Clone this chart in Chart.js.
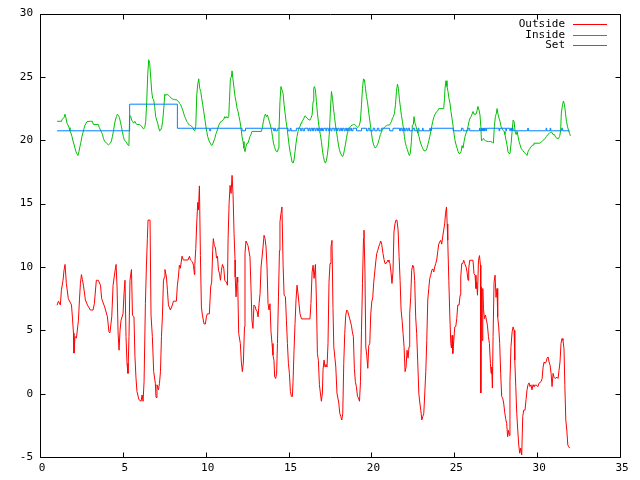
<!DOCTYPE html>
<html>
<head>
<meta charset="utf-8">
<script src="https://cdn.jsdelivr.net/npm/chart.js@4.4.1/dist/chart.umd.min.js"></script>
<style>
  html, body { margin: 0; padding: 0; background: #fff; }
  #wrap { width: 640px; height: 480px; }
</style>
</head>
<body>
<div id="wrap"><canvas id="chart" width="640" height="480"></canvas></div>
<script>
// Temperatura exterior
const outsideX = [
  1.03,1.11,1.23,1.29,1.39,1.45,1.51,1.59,1.71,1.90,
  1.96,2.02,2.05,2.11,2.20,2.32,2.38,2.44,2.50,2.56,
  2.62,2.74,2.86,3.04,3.20,3.28,3.40,3.52,3.65,3.72,
  3.90,4.07,4.16,4.22,4.33,4.41,4.51,4.59,4.65,4.71,
  4.77,4.83,4.89,5.01,5.07,5.13,5.19,5.25,5.31,5.37,
  5.43,5.52,5.58,5.67,5.73,5.79,5.85,5.97,6.10,6.16,
  6.22,6.28,6.36,6.42,6.48,6.52,6.64,6.70,6.78,6.86,
  6.96,7.00,7.06,7.15,7.21,7.27,7.33,7.39,7.45,7.51,
  7.54,7.63,7.69,7.75,7.87,7.99,8.05,8.23,8.29,8.35,
  8.41,8.47,8.57,8.65,8.93,9.02,9.08,9.20,9.26,9.32,
  9.34,9.40,9.46,9.52,9.56,9.62,9.68,9.74,9.80,9.90,
  9.98,10.04,10.10,10.22,10.30,10.36,10.42,10.46,10.52,10.59,
  10.65,10.71,10.77,10.83,10.89,10.95,11.01,11.09,11.15,11.25,
  11.31,11.35,11.41,11.47,11.53,11.59,11.65,11.71,11.77,11.78,
  11.83,11.89,11.93,11.99,12.09,12.15,12.21,12.27,12.34,12.37,
  12.43,12.55,12.67,12.73,12.79,12.85,12.91,12.98,13.04,13.10,
  13.16,13.22,13.28,13.34,13.46,13.52,13.58,13.64,13.70,13.76,
  13.82,13.88,13.94,14.00,14.06,14.12,14.16,14.22,14.28,14.33,
  14.39,14.45,14.48,14.54,14.60,14.67,14.73,14.81,14.87,14.93,
  14.99,15.05,15.11,15.17,15.23,15.27,15.33,15.39,15.45,15.51,
  15.57,15.63,15.69,15.78,16.29,16.35,16.42,16.48,16.54,16.62,
  16.68,16.74,16.80,16.86,16.92,16.98,17.04,17.08,17.14,17.20,
  17.26,17.32,17.38,17.44,17.50,17.56,17.62,17.68,17.73,17.85,
  17.92,18.03,18.09,18.15,18.21,18.27,18.33,18.39,18.45,18.51,
  18.57,18.63,18.69,18.79,18.85,18.91,18.97,19.03,19.09,19.16,
  19.22,19.28,19.34,19.40,19.46,19.52,19.55,19.61,19.66,19.72,
  19.78,19.84,19.90,19.96,20.02,20.08,20.14,20.20,20.26,20.32,
  20.38,20.44,20.50,20.56,20.62,20.70,20.76,20.82,20.88,20.94,
  21.00,21.06,21.12,21.18,21.24,21.30,21.36,21.42,21.48,21.54,
  21.61,21.67,21.73,21.79,21.85,21.91,21.97,22.03,22.09,22.15,
  22.21,22.27,22.31,22.37,22.43,22.49,22.55,22.61,22.67,22.73,
  22.79,22.86,22.92,22.98,23.04,23.10,23.16,23.22,23.28,23.34,
  23.40,23.46,23.52,23.58,23.64,23.70,23.76,23.82,23.88,23.94,
  24.00,24.06,24.12,24.18,24.24,24.30,24.36,24.42,24.47,24.53,
  24.57,24.59,24.62,24.67,24.73,24.79,24.83,24.87,24.91,24.97,
  25.03,25.09,25.15,25.21,25.29,25.35,25.39,25.45,25.51,25.57,
  25.63,25.71,25.77,25.83,25.87,25.93,26.13,26.19,26.25,26.31,
  26.35,26.40,26.46,26.52,26.58,26.60,26.64,26.68,26.72,26.76,
  26.82,26.88,26.94,27.00,27.06,27.12,27.18,27.22,27.26,27.30,
  27.34,27.40,27.46,27.52,27.58,27.62,27.68,27.74,27.80,27.86,
  27.92,27.98,28.04,28.10,28.16,28.22,28.27,28.33,28.36,28.42,
  28.49,28.55,28.61,28.65,28.71,28.77,28.83,28.89,28.95,29.01,
  29.07,29.13,29.19,29.27,29.33,29.39,29.45,29.51,29.57,29.63,
  29.69,29.75,29.81,29.93,30.05,30.11,30.24,30.30,30.36,30.42,
  30.48,30.54,30.60,30.66,30.72,30.78,30.84,30.90,30.96,31.02,
  31.08,31.20,31.26,31.32,31.38,31.44,31.50,31.56,31.62,31.67,
  31.73,31.79,31.85,31.91,31.97
];
const outsideY = [
  6.98,7.3,7.0,8.16,8.95,9.74,10.2,8.7,7.5,7.0,
  5.96,4.77,3.2,4.5,4.4,5.8,7.4,8.7,9.4,9.0,
  8.56,7.4,7.0,6.6,6.6,7.1,8.95,8.95,8.56,7.5,
  6.85,6.06,4.88,4.8,6.06,8.56,9.53,10.2,8.43,4.88,
  3.43,5.0,5.8,6.3,7.9,8.95,4.5,2.4,1.6,4.5,
  8.95,9.8,6.2,6.06,2.9,1.3,0.18,-0.47,-0.6,-0.1,
  -0.6,0.95,7.1,10.0,12.24,13.7,13.7,6.2,4.5,1.74,
  0.82,-0.3,0.7,0.3,0.82,1.74,4.5,6.2,8.95,9.2,
  9.8,9.2,8.16,7.0,6.6,7.0,7.3,7.3,8.56,9.2,
  10.14,9.9,10.85,10.55,10.55,10.85,10.55,10.4,10.14,9.4,
  10.1,11.45,13.55,15.1,14.5,16.4,10.9,6.85,6.2,5.5,
  5.5,6.06,6.3,6.3,8.43,8.8,11.3,12.24,11.7,11.5,
  10.7,10.85,9.74,9.5,8.95,9.74,10.2,9.9,8.95,8.8,
  8.56,12.24,15.0,16.44,15.8,17.23,15.7,12.63,10.55,9.2,
  7.64,9.2,8.8,4.75,3.96,2.5,1.74,2.4,5.27,11.05,
  12.05,11.7,10.8,8.43,5.8,5.15,7.0,6.9,6.6,6.5,
  6.06,7.1,7.9,10.0,11.58,12.5,12.24,11.58,10.0,7.1,
  6.6,7.1,4.88,3.96,3.04,2.6,1.34,1.2,1.6,3.96,
  7.64,11.3,13.55,14.2,14.74,10.14,7.78,7.64,5.8,3.96,
  2.4,1.6,0.18,-0.22,-0.22,0.95,3.43,5.54,7.4,8.56,
  7.9,7.1,6.3,5.9,5.9,7.1,9.6,10.14,9.1,10.2,
  7.4,3.17,2.6,0.7,0.05,-0.6,0.05,1.9,2.65,2.1,
  2.3,2.1,3.96,8.8,10.27,11.58,12.1,6.72,3.7,2.1,
  0.05,-0.74,-1.55,-1.8,-2.08,-1.55,2.4,4.75,6.2,6.6,
  6.5,6.2,5.9,5.4,4.88,4.5,2.0,0.95,0.56,-0.22,
  -0.35,-0.6,0.95,5.0,8.7,12.24,12.9,9.6,3.7,3.0,
  2.0,3.8,3.96,6.3,7.24,7.6,8.8,9.6,10.4,11.05,
  11.3,11.58,11.8,12.05,11.8,11.05,10.6,10.27,10.27,10.4,
  10.55,10.4,10.27,9.6,8.7,9.6,12.76,13.4,13.7,13.7,
  12.9,10.8,8.95,6.6,5.8,4.75,3.7,1.74,2.1,3.43,
  2.8,3.7,6.33,7.6,9.74,10.14,10.0,8.95,6.06,4.75,
  2.65,0.05,-0.74,-1.3,-2.08,-1.8,-1.55,0.05,1.74,4.2,
  7.4,8.3,9.1,9.35,9.74,9.85,9.6,10.0,10.27,10.55,
  11.2,11.8,11.97,12.1,11.8,12.37,12.9,13.4,14.2,14.74,
  13.4,13.0,12.1,8.95,6.2,3.96,3.6,4.6,3.17,4.2,
  5.27,5.3,5.93,7.0,7.0,7.77,9.2,10.27,10.27,10.53,
  10.27,10.0,9.6,8.95,9.85,10.53,10.53,9.48,9.35,8.3,
  8.8,7.77,10.53,10.9,10.14,0.05,8.43,4.2,8.3,6.72,
  5.93,6.2,5.8,5.4,4.5,3.96,2.4,1.6,2.1,0.44,
  4.5,8.8,9.35,7.6,8.3,6.06,5.27,3.96,1.6,-0.22,
  -0.35,-0.74,-1.44,-1.96,-2.35,-3.4,-2.9,-3.3,0.95,3.7,
  4.88,5.27,5.0,2.65,0.56,-1.55,-2.87,-4.05,-4.7,-4.3,
  -4.84,-1.8,-1.3,-1.3,-0.47,0.3,0.7,0.85,0.56,0.7,
  0.3,0.7,0.56,0.7,0.56,0.82,0.95,1.2,2.1,2.5,
  2.4,2.5,2.8,2.9,2.5,2.25,1.6,0.56,1.6,1.3,
  1.2,1.3,1.2,1.84,2.5,3.96,4.35,4.2,3.56,0.7,
  -2.08,-2.87,-4.05,-4.2,-4.3
];

// Temperatura interior
const insideX = [
  1.03,1.29,1.31,1.45,1.51,1.57,1.63,1.69,1.75,1.81,
  1.87,1.93,1.99,2.05,2.11,2.17,2.23,2.29,2.35,2.41,
  2.47,2.53,2.60,2.66,2.72,2.78,2.84,3.04,3.16,3.22,
  3.52,3.58,3.65,3.71,3.77,3.83,3.89,3.95,4.01,4.13,
  4.25,4.31,4.37,4.43,4.49,4.55,4.61,4.67,4.73,4.79,
  4.85,4.91,4.97,5.03,5.09,5.21,5.27,5.34,5.37,5.41,
  5.47,5.53,5.59,5.65,5.72,5.78,5.84,6.02,6.08,6.14,
  6.20,6.26,6.32,6.38,6.44,6.50,6.56,6.62,6.68,6.74,
  6.80,6.86,6.92,6.98,7.04,7.10,7.16,7.22,7.28,7.34,
  7.40,7.47,7.53,7.59,7.65,7.71,7.77,7.83,7.95,8.01,
  8.13,8.25,8.31,8.37,8.43,8.49,8.55,8.61,8.67,8.73,
  8.79,8.85,8.91,8.97,9.04,9.10,9.16,9.22,9.28,9.34,
  9.40,9.46,9.52,9.58,9.64,9.70,9.76,9.82,9.88,9.94,
  10.00,10.06,10.12,10.18,10.24,10.30,10.36,10.42,10.49,10.55,
  10.60,10.66,10.72,10.78,10.85,10.91,10.97,11.03,11.09,11.15,
  11.21,11.27,11.33,11.39,11.43,11.49,11.55,11.59,11.65,11.71,
  11.77,11.83,11.89,11.95,12.01,12.07,12.13,12.19,12.25,12.31,
  12.37,12.43,12.49,12.55,12.61,12.67,12.73,12.79,13.36,13.42,
  13.48,13.54,13.60,13.66,13.72,13.78,13.84,13.90,13.97,14.03,
  14.09,14.15,14.21,14.27,14.33,14.39,14.42,14.48,14.54,14.60,
  14.67,14.73,14.79,14.85,14.91,14.97,15.03,15.09,15.15,15.21,
  15.27,15.33,15.39,15.45,15.51,15.57,15.63,15.69,15.75,15.81,
  15.87,15.93,15.99,16.05,16.11,16.17,16.23,16.29,16.35,16.42,
  16.48,16.52,16.56,16.62,16.68,16.74,16.80,16.86,16.92,16.98,
  17.04,17.10,17.16,17.22,17.28,17.34,17.41,17.47,17.53,17.59,
  17.65,17.71,17.77,17.83,17.89,17.95,18.01,18.07,18.13,18.19,
  18.25,18.31,18.37,18.43,18.49,18.55,18.61,18.67,18.73,18.85,
  18.91,18.97,19.03,19.10,19.16,19.22,19.28,19.34,19.40,19.46,
  19.52,19.58,19.64,19.70,19.76,19.82,19.88,19.94,20.00,20.06,
  20.12,20.18,20.24,20.30,20.36,20.42,20.48,20.54,20.60,20.66,
  20.72,20.78,20.84,20.90,20.97,21.09,21.15,21.21,21.27,21.33,
  21.39,21.45,21.51,21.57,21.63,21.69,21.75,21.81,21.87,21.93,
  21.99,22.05,22.11,22.17,22.23,22.29,22.35,22.41,22.47,22.53,
  22.57,22.63,22.69,22.75,22.81,22.87,22.93,22.99,23.05,23.11,
  23.17,23.28,23.34,23.40,23.46,23.52,23.58,23.64,23.70,23.76,
  23.82,23.88,23.94,24.00,24.06,24.36,24.41,24.44,24.50,24.56,
  24.62,24.68,24.74,24.80,24.86,24.93,24.99,25.05,25.11,25.17,
  25.23,25.29,25.35,25.41,25.47,25.53,25.59,25.65,25.71,25.77,
  25.83,25.89,25.95,26.01,26.07,26.13,26.19,26.31,26.37,26.43,
  26.49,26.55,26.60,26.64,26.70,26.76,26.82,26.88,27.06,27.18,
  27.30,27.36,27.42,27.48,27.54,27.58,27.64,27.70,27.76,27.82,
  27.88,27.94,28.00,28.06,28.12,28.18,28.24,28.30,28.36,28.43,
  28.49,28.55,28.61,28.67,28.73,28.79,28.85,28.91,28.97,29.03,
  29.09,29.15,29.21,29.27,29.33,29.39,29.45,29.51,29.57,29.63,
  29.75,29.81,30.16,30.24,30.32,30.40,30.48,30.56,30.64,30.72,
  30.80,30.88,30.96,31.04,31.12,31.20,31.29,31.36,31.42,31.46,
  31.53,31.59,31.65,31.71,31.77,31.83,31.89,31.95,32.01
];
const insideY = [
  21.5,21.5,21.6,21.8,22.06,21.75,21.35,21.2,21.0,20.75,
  20.56,20.3,19.95,19.7,19.38,19.1,18.93,18.8,19.1,19.5,
  19.85,20.3,20.64,20.95,21.2,21.35,21.48,21.5,21.5,21.25,
  21.25,21.0,20.8,20.64,20.45,20.15,19.95,19.85,19.77,19.64,
  19.77,19.95,20.3,20.7,21.2,21.6,21.87,22.06,21.96,21.8,
  21.48,21.1,20.7,20.3,20.03,19.85,19.7,19.58,19.85,21.95,
  21.9,21.6,21.48,21.35,21.5,21.35,21.25,21.25,21.15,21.1,
  20.95,20.9,21.0,21.48,23.05,25.16,26.35,26.08,25.0,23.85,
  23.3,23.2,22.67,21.87,21.6,21.35,21.0,20.74,20.8,21.0,
  21.48,22.53,23.64,23.53,23.64,23.58,23.53,23.45,23.3,23.25,
  23.2,23.2,23.1,23.05,22.9,22.8,22.6,22.4,22.14,21.87,
  21.7,21.5,21.4,21.25,21.2,21.15,21.1,21.0,20.8,20.74,
  21.1,23.58,24.43,24.85,24.1,23.85,23.3,22.8,22.27,21.75,
  21.2,20.7,20.3,20.03,19.85,19.7,19.58,19.7,19.95,20.15,
  20.45,20.64,20.9,21.15,21.35,21.48,21.5,21.6,21.66,21.87,
  21.75,21.87,21.75,21.87,23.05,24.9,25.0,25.48,24.76,24.1,
  23.45,23.05,22.53,22.27,21.87,21.48,20.95,20.3,19.9,19.38,
  19.1,19.5,19.77,19.77,20.03,20.3,20.45,20.7,20.7,21.0,
  21.48,21.87,22.06,21.87,22.0,21.75,21.48,21.2,20.8,20.3,
  19.77,19.5,19.25,19.1,19.1,19.38,20.7,23.05,24.24,23.98,
  23.7,22.8,22.14,21.48,20.95,20.3,19.64,19.1,18.72,18.27,
  18.2,18.45,19.1,19.77,20.3,20.7,20.95,21.1,21.35,21.48,
  21.6,21.75,21.93,21.87,21.75,21.68,21.6,21.6,21.75,22.0,
  23.05,24.1,24.24,23.98,23.05,22.14,21.48,20.8,20.45,19.9,
  19.25,18.72,18.38,18.2,18.38,18.85,19.64,20.8,22.53,23.85,
  23.3,22.53,21.87,21.2,20.7,20.15,19.64,19.25,19.0,18.85,
  18.72,18.85,19.25,19.64,20.15,20.56,20.8,20.95,21.1,21.2,
  21.25,21.25,21.2,21.1,21.0,21.1,21.2,21.6,22.8,24.1,
  24.85,24.76,24.1,23.45,23.05,22.4,21.75,21.2,20.56,20.03,
  19.7,19.5,19.38,19.5,19.64,19.85,20.15,20.45,20.64,20.8,
  20.95,21.0,21.1,21.15,21.2,21.2,21.35,21.48,21.75,21.87,
  22.14,22.8,23.85,24.43,24.1,23.2,22.6,21.95,21.5,20.95,
  20.3,19.77,19.5,19.25,19.0,18.8,19.0,19.9,21.2,21.25,
  21.87,21.35,21.1,20.8,20.56,20.3,19.95,19.7,19.5,19.32,
  19.17,19.17,19.32,19.64,19.95,20.3,20.7,21.1,21.48,21.8,
  22.0,22.14,22.27,22.32,22.5,22.5,23.3,24.1,24.7,24.24,
  23.85,23.3,22.93,22.27,21.75,21.1,20.45,19.95,19.64,19.38,
  19.1,18.95,18.95,19.1,19.58,19.38,19.9,20.3,20.56,20.8,
  21.1,21.48,21.75,21.87,22.06,22.27,22.06,22.06,22.32,22.67,
  22.4,22.0,21.1,19.95,20.03,20.15,20.03,19.95,19.9,19.9,
  19.85,19.77,21.1,21.87,22.14,22.5,22.06,21.75,21.48,21.1,
  20.95,20.8,20.7,20.45,20.03,19.64,19.1,18.95,18.95,19.77,
  20.7,21.6,21.48,20.7,20.45,20.7,20.3,19.9,19.64,19.38,
  19.25,19.17,19.06,18.98,18.9,18.8,19.1,19.25,19.38,19.5,
  19.64,19.77,19.77,19.85,19.95,20.03,20.15,20.3,20.45,20.53,
  20.64,20.64,20.45,20.45,20.24,20.15,20.15,20.3,20.8,22.14,
  22.8,23.1,22.8,22.14,21.48,21.1,20.8,20.56,20.35
];

// Consigna (escalonada): cada valor se mantiene hasta el siguiente x
const setX = [
  1.03,5.41,8.29,10.24,10.30,12.19,12.40,14.10,14.16,14.22,
  14.35,14.97,15.10,15.15,15.47,15.73,15.80,15.88,15.97,16.17,
  16.23,16.30,16.36,16.45,16.50,16.60,16.66,16.75,16.80,16.92,
  16.98,17.05,17.12,17.25,17.30,17.40,17.47,17.55,17.62,17.75,
  17.80,17.90,17.96,18.05,18.12,18.20,18.26,18.35,18.42,18.50,
  18.56,18.65,18.72,18.80,18.89,19.10,19.40,19.70,19.80,19.90,
  20.10,20.20,20.35,20.45,20.60,21.10,21.30,21.70,21.76,21.84,
  21.90,22.00,22.08,22.15,22.22,22.30,22.51,22.61,22.81,22.87,
  23.08,23.12,23.52,23.56,23.62,24.93,25.43,25.53,25.83,25.93,
  26.52,26.56,26.64,26.70,26.73,26.76,26.79,26.82,26.85,26.91,
  26.95,27.70,27.74,28.11,28.15,28.35,28.40,28.46,28.50,28.55,
  29.43,29.47,30.54,30.58,30.78,30.82,31.48,31.54,31.97
];
const setY = [
  20.75,22.85,20.95,20.75,20.95,20.75,20.95,20.75,20.95,20.75,
  20.95,20.75,20.95,20.75,20.95,20.75,20.95,20.75,20.95,20.75,
  20.95,20.75,20.95,20.75,20.95,20.75,20.95,20.75,20.95,20.75,
  20.95,20.75,20.95,20.75,20.95,20.75,20.95,20.75,20.95,20.75,
  20.95,20.75,20.95,20.75,20.95,20.75,20.95,20.75,20.95,20.75,
  20.95,20.75,20.95,20.75,20.95,20.75,20.95,20.75,20.95,20.75,
  20.95,20.75,20.95,20.75,20.95,20.75,20.95,20.75,20.95,20.75,
  20.95,20.75,20.95,20.75,20.95,20.75,20.95,20.75,20.95,20.75,
  20.95,20.75,20.95,20.75,20.95,20.75,20.95,20.75,20.95,20.75,
  20.95,20.75,20.95,20.75,20.95,20.75,20.95,20.75,20.95,20.75,
  20.95,20.75,20.95,20.75,20.95,20.75,20.95,20.75,20.95,20.75,
  20.95,20.75,20.95,20.75,20.95,20.75,20.95,20.75,20.75
];

const seriesNames = ["Outside", "Inside", "Set"];
const seriesColors = ["#ff0000", "#00c000", "#0080ff"];

function toPoints(xs, ys) {
  return xs.map((x, i) => ({ x: x, y: ys[i] }));
}

const monoFont = { family: "'DejaVu Sans Mono', monospace", size: 11 };

// Marco completo con marcas de graduación hacia dentro (estilo gnuplot)
const frame = {
  id: "frame",
  afterDraw(chart) {
    const { ctx, chartArea: a, scales } = chart;
    const L = Math.round(a.left) + 0.5, R = Math.round(a.right) + 0.5;
    const T = Math.round(a.top) + 0.5, B = Math.round(a.bottom) + 0.5;
    ctx.save();
    ctx.strokeStyle = "#000";
    ctx.lineWidth = 1;
    ctx.beginPath();
    ctx.rect(L, T, R - L, B - T);
    scales.x.ticks.forEach((t) => {
      const px = Math.round(scales.x.getPixelForValue(t.value)) + 0.5;
      ctx.moveTo(px, B); ctx.lineTo(px, B - 5);
      ctx.moveTo(px, T); ctx.lineTo(px, T + 5);
    });
    scales.y.ticks.forEach((t) => {
      const py = Math.round(scales.y.getPixelForValue(t.value)) + 0.5;
      ctx.moveTo(L, py); ctx.lineTo(L + 5, py);
      ctx.moveTo(R, py); ctx.lineTo(R - 5, py);
    });
    ctx.stroke();
    ctx.restore();
  },
};

// Leyenda: texto alineado a la derecha y muestra de línea después
const gnuLegend = {
  id: "gnuLegend",
  afterDraw(chart) {
    const ctx = chart.ctx;
    ctx.save();
    ctx.font = "11px 'DejaVu Sans Mono', monospace";
    ctx.textAlign = "right";
    ctx.textBaseline = "middle";
    chart.data.datasets.forEach((ds, i) => {
      const y = Math.round(24 + i * 10.6) + 0.5;
      ctx.fillStyle = "#000";
      ctx.fillText(ds.label, 565, y);
      ctx.strokeStyle = ds.borderColor;
      ctx.lineWidth = 1;
      ctx.beginPath();
      ctx.moveTo(573, y);
      ctx.lineTo(607, y);
      ctx.stroke();
    });
    ctx.restore();
  },
};

const ctx = document.getElementById("chart").getContext("2d");
const chart = new Chart(ctx, {
  type: "scatter",
  data: {
    datasets: [
      {
        label: seriesNames[0],
        data: toPoints(outsideX, outsideY),
        borderColor: seriesColors[0],
        order: 2,
      },
      {
        label: seriesNames[1],
        data: toPoints(insideX, insideY),
        borderColor: seriesColors[1],
        order: 1,
      },
      {
        label: seriesNames[2],
        data: toPoints(setX, setY),
        borderColor: seriesColors[2],
        stepped: true,
        order: 0,
      },
    ],
  },
  options: {
    responsive: false,
    animation: false,
    showLine: true,
    datasets: {
      scatter: { borderWidth: 1, pointRadius: 0, pointHoverRadius: 0, tension: 0 },
    },
    layout: { padding: { top: 13, right: 20, left: 0, bottom: 0 } },
    plugins: {
      legend: { display: false },
      tooltip: { enabled: false },
    },
    scales: {
      x: {
        type: "linear",
        min: 0,
        max: 35,
        afterFit: (s) => { s.height = 23; },
        grid: { display: false, drawTicks: false },
        border: { display: false },
        ticks: { stepSize: 5, color: "#000", font: monoFont, padding: 5, labelOffset: 2, maxRotation: 0 },
      },
      y: {
        type: "linear",
        min: -5,
        max: 30,
        afterFit: (s) => { s.width = 40; },
        grid: { display: false, drawTicks: false },
        border: { display: false },
        ticks: { stepSize: 5, color: "#000", font: monoFont, padding: 7 },
      },
    },
  },
  plugins: [frame, gnuLegend],
});
</script>
</body>
</html>
